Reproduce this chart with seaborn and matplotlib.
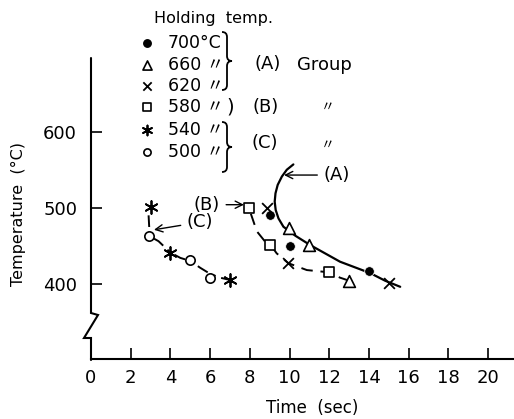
import matplotlib
matplotlib.use("Agg")
import matplotlib.pyplot as plt
from matplotlib.path import Path
from matplotlib.patches import PathPatch
import seaborn as sns

# Holding temperatures and measured points (time in sec, temperature in degC)
t700_time = [9.0, 10.0, 14.0]
t700_temp = [490, 450, 417]
t660_time = [9.95, 11.0, 13.0]
t660_temp = [473, 451, 404]
t620_time = [8.85, 9.9, 15.0]
t620_temp = [500, 427, 401]
t580_time = [7.95, 9.0, 12.0]
t580_temp = [500, 451, 415]
t540_time = [3.0, 4.0, 7.0]
t540_temp = [501, 441, 405]
t500_time = [2.9, 5.0, 6.0]
t500_temp = [463, 431, 407]

# Group curves
curve_a_time = [10.19, 9.86, 9.61, 9.40, 9.29, 9.25, 9.30, 9.44, 9.69, 10.3, 11.03, 12.54, 14.06, 14.81, 15.57]
curve_a_temp = [557, 550, 541, 530, 519, 508, 497, 486, 475, 463, 451, 429, 414, 404, 396]
curve_b_time = [8.05, 8.35, 8.75, 9.02, 9.35, 9.94, 10.87, 12.0, 12.54, 13.0]
curve_b_temp = [492, 469, 456, 452, 440, 427, 418, 415, 408, 404]
curve_c_time = [2.9, 2.93, 2.92, 3.4, 4.0, 4.5, 5.0, 5.5, 6.0, 6.5, 7.0]
curve_c_temp = [490, 475, 463, 456, 441, 434, 430, 421, 413, 408, 405]

legend_labels = ["700°C", "660 〃", "620 〃", "580 〃", "540 〃", "500 〃"]
x_ticks = [0, 2, 4, 6, 8, 10, 12, 14, 16, 18, 20]
y_ticks = [400, 500, 600]

sns.set_style("ticks")
plt.rcParams['font.family'] = ['DejaVu Sans', 'Noto Sans CJK JP']
plt.rcParams['text.color'] = 'black'
plt.rcParams['axes.labelcolor'] = 'black'
plt.rcParams['xtick.color'] = 'black'
plt.rcParams['ytick.color'] = 'black'

W, H = 514, 419
fig = plt.figure(figsize=(W / 100, H / 100), dpi=100)
ax = fig.add_axes([91 / W, 60 / H, 423 / W, 301 / H])

# marker styles per holding temperature
asterisk = (6, 2, 0)
groups = [
    (t700_time, t700_temp, dict(marker="o", s=48, color="black")),
    (t660_time, t660_temp, dict(marker="^", s=72, color="black", facecolor="white", edgecolor="black", linewidth=1.2)),
    (t620_time, t620_temp, dict(marker="x", s=60, color="black", linewidth=1.3)),
    (t580_time, t580_temp, dict(marker="s", s=62, color="black", facecolor="white", edgecolor="black", linewidth=1.2)),
    (t540_time, t540_temp, dict(marker=asterisk, s=85, color="black", linewidth=1.3)),
    (t500_time, t500_temp, dict(marker="o", s=45, color="black", facecolor="white", edgecolor="black", linewidth=1.2)),
]

sns.lineplot(x=curve_a_time, y=curve_a_temp, sort=False, color="black", lw=1.6, ax=ax)
sns.lineplot(x=curve_b_time, y=curve_b_temp, sort=False, color="black", lw=1.4,
             linestyle=(0, (6, 4)), ax=ax)
sns.lineplot(x=curve_c_time, y=curve_c_temp, sort=False, color="black", lw=1.4,
             linestyle=(0, (6, 3, 1.5, 3)), ax=ax)

for tx, ty, kw in groups:
    sns.scatterplot(x=tx, y=ty, ax=ax, zorder=3, clip_on=False, **kw)

ax.set_xlim(0, 21.3)
ax.set_ylim(301, 697)
ax.set_xticks(x_ticks)
ax.set_yticks(y_ticks)
ax.tick_params(direction="in", length=8, width=1.2, labelsize=13, colors="black")
ax.tick_params(axis="y", pad=10)
ax.tick_params(axis="x", pad=7)
for side in ["top", "right", "left"]:
    ax.spines[side].set_visible(False)
ax.spines["bottom"].set_linewidth(1.5)
ax.spines["bottom"].set_color("black")
ax.set_xlabel("")
ax.set_ylabel("")

arrow = dict(arrowstyle="->", lw=1.0, color="black", shrinkA=2, shrinkB=0)
ax.annotate("(A)", xy=(9.72, 543), xytext=(11.7, 543), ha="left", va="center",
            fontsize=13, arrowprops=arrow)
ax.annotate("(B)", xy=(7.7, 504), xytext=(6.5, 504), ha="right", va="center",
            fontsize=13, arrowprops=arrow)
ax.annotate("(C)", xy=(3.17, 471), xytext=(4.82, 481), ha="left", va="center",
            fontsize=13, arrowprops=arrow)

# overlay in pixel coordinates for the key and the broken axis
ov = fig.add_axes([0, 0, 1, 1])
ov.set_xlim(0, W)
ov.set_ylim(H, 0)
ov.axis("off")

ov.plot([91, 91, 98, 84, 91, 91], [58, 313, 315, 338, 338, 360], color="black", lw=1.5,
        solid_joinstyle="miter")

fig.text(312 / W, 1 - 408 / H, "Time  (sec)", ha="center", va="center", fontsize=12)
fig.text(18 / W, 1 - 214 / H, "Temperature  (°C)", ha="center", va="center",
         rotation=90, fontsize=11.5)

ov.text(214, 18, "Holding  temp.", ha="center", va="center", fontsize=11.5)
rows = [43, 65, 86, 107, 130, 152]
for (tx, ty, kw), label, ry in zip(groups, legend_labels, rows):
    k = dict(kw)
    k["s"] = k["s"] * 0.6
    k.pop("color")
    if "facecolor" not in k:
        k["color"] = "black"
    ov.scatter([147], [ry], **k)
    ov.text(168, ry, label, ha="left", va="center", fontsize=12.5)


def brace(x, y0, y1, w=6):
    ym = (y0 + y1) / 2
    verts = [(x - 4, y0), (x + 1, y0), (x + 1, y0 + 5), (x + 1, ym - 5),
             (x + 1, ym), (x + w, ym), (x + 1, ym), (x + 1, ym + 5),
             (x + 1, y1 - 5), (x + 1, y1), (x - 4, y1)]
    codes = [Path.MOVETO, Path.CURVE3, Path.CURVE3, Path.LINETO,
             Path.CURVE3, Path.CURVE3, Path.CURVE3, Path.CURVE3,
             Path.LINETO, Path.CURVE3, Path.CURVE3]
    ov.add_patch(PathPatch(Path(verts, codes), fill=False, lw=1.3, color="black"))


brace(226, 32, 90)
brace(226, 122, 172)
ov.text(230, 107, ")", ha="center", va="center", fontsize=14)

ov.text(268, 64, "(A)", ha="center", va="center", fontsize=13)
ov.text(324, 65, "Group", ha="center", va="center", fontsize=13)
ov.text(266, 107, "(B)", ha="center", va="center", fontsize=13)
ov.text(328, 107, "〃", ha="center", va="center", fontsize=10)
ov.text(265, 143, "(C)", ha="center", va="center", fontsize=13)
ov.text(328, 145, "〃", ha="center", va="center", fontsize=10)

fig.savefig("out.png", dpi=100)
